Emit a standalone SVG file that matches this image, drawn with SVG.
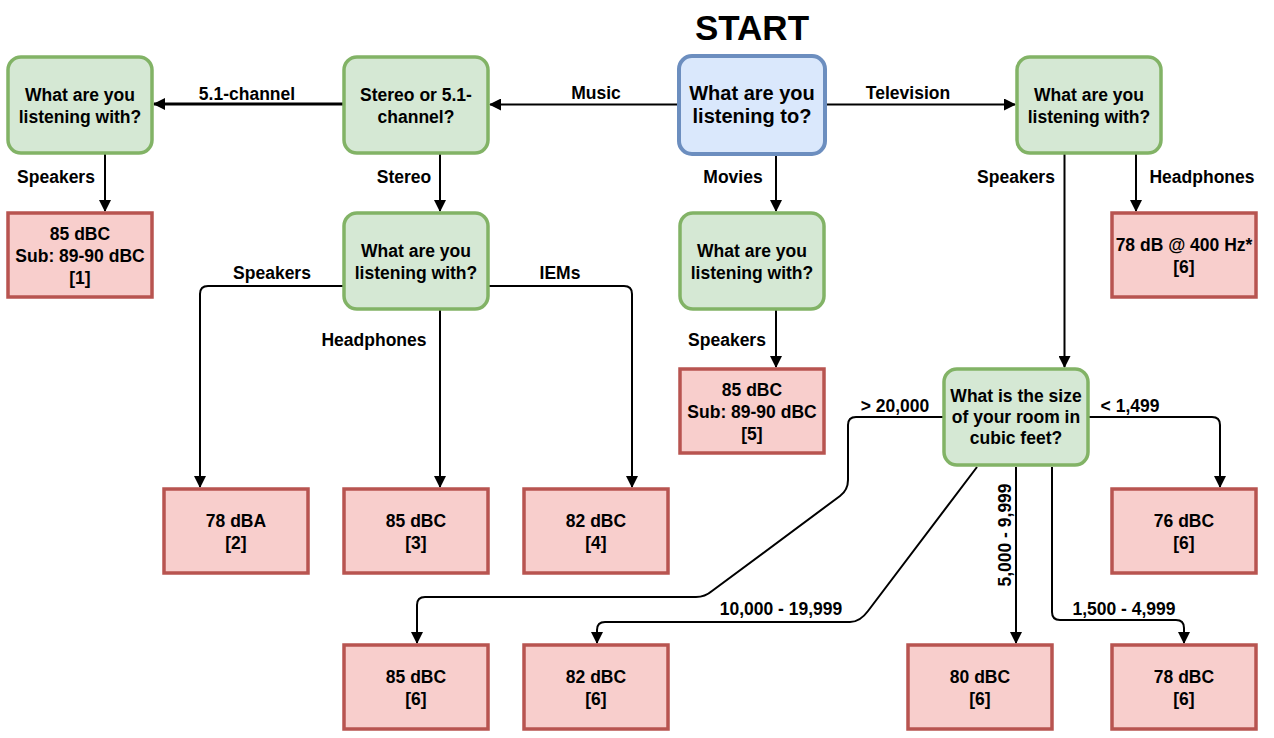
<svg xmlns="http://www.w3.org/2000/svg" width="1274" height="738" viewBox="0 0 1274 738">
<defs>
<style>
.q{fill:#d5e8d4;stroke:#82b366;stroke-width:3.5}
.s{fill:#dae8fc;stroke:#6c8ebf;stroke-width:4}
.r{fill:#f8cecc;stroke:#b85450;stroke-width:3.5}
text{font-family:"Liberation Sans",Arial,Helvetica,sans-serif;font-weight:bold;fill:#000;text-anchor:middle}
.t{font-size:17.5px}
.l{font-size:17.5px}
.e{fill:none;stroke:#000;stroke-width:2}
</style>
<marker id="a" viewBox="0 0 12 12" refX="11" refY="6" markerWidth="12" markerHeight="12" markerUnits="userSpaceOnUse" orient="auto">
<path d="M0,0 L12,6 L0,12 Z" fill="#000"/>
</marker>
</defs>
<rect width="1274" height="738" fill="#fff"/>

<g id="connectors">
<path class="e" d="M679,104.5 H490" marker-end="url(#a)"/>
<path class="e" style="stroke-width:3" d="M344,104 H154" marker-end="url(#a)"/>
<path class="e" d="M105,154 V211" marker-end="url(#a)"/>
<path class="e" d="M440,154 V211" marker-end="url(#a)"/>
<path class="e" d="M344,286 H208 Q200,286 200,294 V487" marker-end="url(#a)"/>
<path class="e" d="M440,309 V487" marker-end="url(#a)"/>
<path class="e" d="M488,286 H624 Q632,286 632,294 V487" marker-end="url(#a)"/>
<path class="e" d="M776,154 V211" marker-end="url(#a)"/>
<path class="e" d="M776,309 V367" marker-end="url(#a)"/>
<path class="e" d="M825,104.5 H1015" marker-end="url(#a)"/>
<path class="e" d="M1136,154 V211" marker-end="url(#a)"/>
<path class="e" d="M1064.5,154 V367" marker-end="url(#a)"/>
<path class="e" d="M1088,417 H1212 Q1220,417 1220,425 V487" marker-end="url(#a)"/>
<path class="e" d="M944,417 H856 Q848,417 848,425 V480 Q848,490 840,496 L712,591 Q705,597 696,597 H425 Q417,597 417,605 V643" marker-end="url(#a)"/>
<path class="e" d="M977,467 L868,611 Q860,622 850,622 H605 Q597,622 597,630 V643" marker-end="url(#a)"/>
<path class="e" d="M1016,467 V643" marker-end="url(#a)"/>
<path class="e" d="M1052,467 V612 Q1052,620 1060,620 H1176 Q1184,620 1184,628 V643" marker-end="url(#a)"/>
<text class="l" x="596" y="99">Music</text>
<text class="l" x="247" y="100">5.1-channel</text>
<text class="l" x="908" y="99">Television</text>
<text class="l" x="56" y="183">Speakers</text>
<text class="l" x="404" y="183">Stereo</text>
<text class="l" x="733" y="183">Movies</text>
<text class="l" x="1016" y="183">Speakers</text>
<text class="l" x="1202" y="183">Headphones</text>
<text class="l" x="272" y="279">Speakers</text>
<text class="l" x="560" y="279">IEMs</text>
<text class="l" x="374" y="346">Headphones</text>
<text class="l" x="727" y="346">Speakers</text>
<text class="l" x="895" y="412">&gt; 20,000</text>
<text class="l" x="1130" y="412">&lt; 1,499</text>
<text class="l" x="781" y="615">10,000 - 19,999</text>
<text class="l" x="1124" y="615">1,500 - 4,999</text>
<text class="l" transform="translate(1011,535) rotate(-90)">5,000 - 9,999</text>
</g>

<g id="title"><text x="752" y="40" style="font-size:35px">START</text></g>

<g id="start">
<rect class="s" x="679" y="56" width="146" height="98" rx="13"/>
<text x="752" y="100" style="font-size:20px">What are you</text>
<text x="752" y="123" style="font-size:20px">listening to?</text>
</g>

<g id="stereo">
<rect class="q" x="344" y="57" width="144" height="96" rx="13"/>
<text class="t" x="416" y="101">Stereo or 5.1-</text>
<text class="t" x="416" y="123">channel?</text>
</g>

<g id="with51">
<rect class="q" x="8" y="57" width="144" height="96" rx="13"/>
<text class="t" x="80" y="101">What are you</text>
<text class="t" x="80" y="123">listening with?</text>
</g>

<g id="r1">
<rect class="r" x="8" y="213" width="144" height="84"/>
<text class="t" x="80" y="240">85 dBC</text>
<text class="t" x="80" y="262">Sub: 89-90 dBC</text>
<text class="t" x="80" y="284">[1]</text>
</g>

<g id="withStereo">
<rect class="q" x="344" y="213" width="144" height="96" rx="13"/>
<text class="t" x="416" y="257">What are you</text>
<text class="t" x="416" y="279">listening with?</text>
</g>

<g id="r2">
<rect class="r" x="164" y="489" width="144" height="84"/>
<text class="t" x="236" y="527">78 dBA</text>
<text class="t" x="236" y="549">[2]</text>
</g>

<g id="r3">
<rect class="r" x="344" y="489" width="144" height="84"/>
<text class="t" x="416" y="527">85 dBC</text>
<text class="t" x="416" y="549">[3]</text>
</g>

<g id="r4">
<rect class="r" x="524" y="489" width="144" height="84"/>
<text class="t" x="596" y="527">82 dBC</text>
<text class="t" x="596" y="549">[4]</text>
</g>

<g id="withMovies">
<rect class="q" x="680" y="213" width="144" height="96" rx="13"/>
<text class="t" x="752" y="257">What are you</text>
<text class="t" x="752" y="279">listening with?</text>
</g>

<g id="r5">
<rect class="r" x="680" y="369" width="144" height="84"/>
<text class="t" x="752" y="396">85 dBC</text>
<text class="t" x="752" y="418">Sub: 89-90 dBC</text>
<text class="t" x="752" y="440">[5]</text>
</g>

<g id="withTV">
<rect class="q" x="1017" y="57" width="144" height="96" rx="13"/>
<text class="t" x="1089" y="101">What are you</text>
<text class="t" x="1089" y="123">listening with?</text>
</g>

<g id="rHead">
<rect class="r" x="1112" y="213" width="144" height="84"/>
<text class="t" x="1184" y="251">78 dB @ 400 Hz*</text>
<text class="t" x="1184" y="273">[6]</text>
</g>

<g id="room">
<rect class="q" x="944" y="369" width="144" height="96" rx="13"/>
<text class="t" x="1016" y="402">What is the size</text>
<text class="t" x="1016" y="423">of your room in</text>
<text class="t" x="1016" y="444">cubic feet?</text>
</g>

<g id="r76">
<rect class="r" x="1112" y="489" width="144" height="84"/>
<text class="t" x="1184" y="527">76 dBC</text>
<text class="t" x="1184" y="549">[6]</text>
</g>

<g id="r85">
<rect class="r" x="344" y="645" width="144" height="84"/>
<text class="t" x="416" y="683">85 dBC</text>
<text class="t" x="416" y="705">[6]</text>
</g>

<g id="r82">
<rect class="r" x="524" y="645" width="144" height="84"/>
<text class="t" x="596" y="683">82 dBC</text>
<text class="t" x="596" y="705">[6]</text>
</g>

<g id="r80">
<rect class="r" x="908" y="645" width="144" height="84"/>
<text class="t" x="980" y="683">80 dBC</text>
<text class="t" x="980" y="705">[6]</text>
</g>

<g id="r78">
<rect class="r" x="1112" y="645" width="144" height="84"/>
<text class="t" x="1184" y="683">78 dBC</text>
<text class="t" x="1184" y="705">[6]</text>
</g>
</svg>
